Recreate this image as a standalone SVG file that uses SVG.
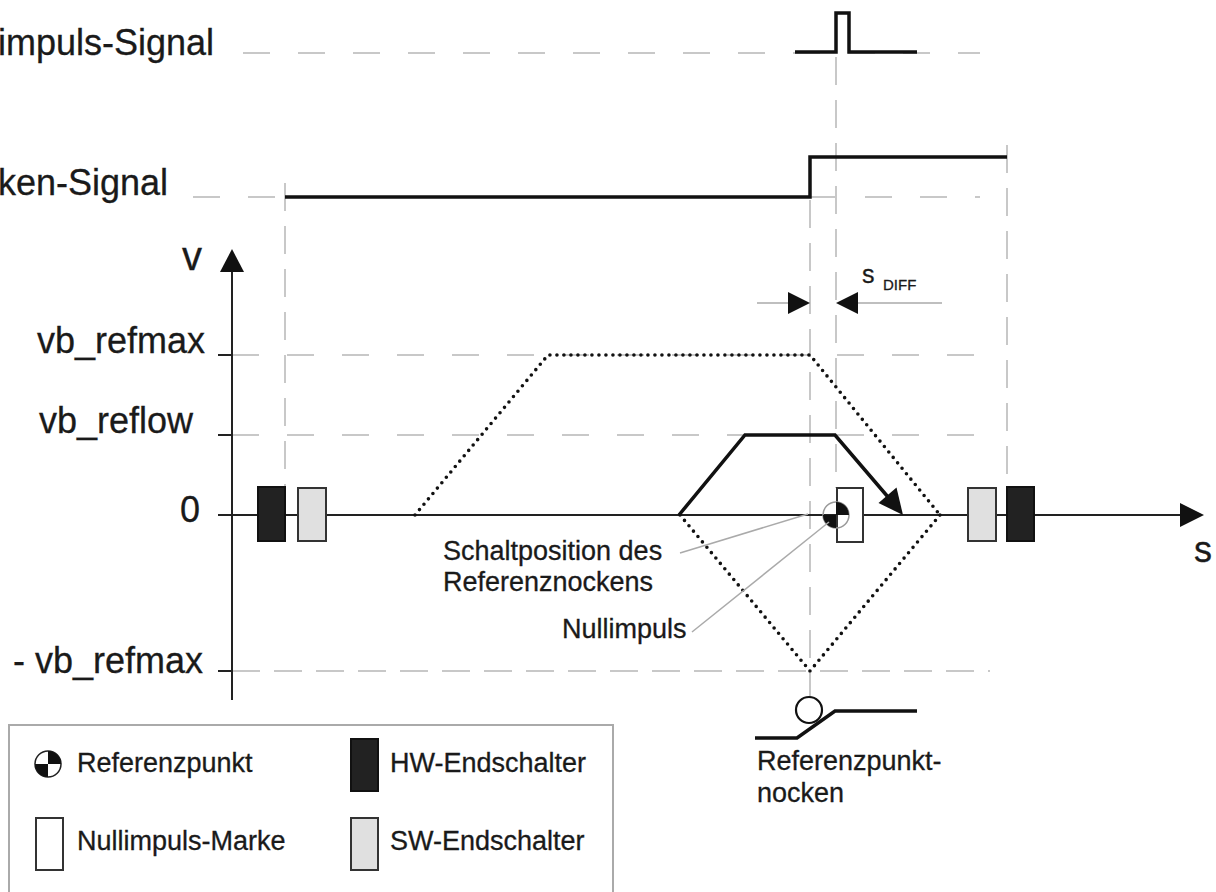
<svg xmlns="http://www.w3.org/2000/svg" width="1216" height="892" viewBox="0 0 1216 892">
<style>
  text { font-family: "Liberation Sans", Arial, Helvetica, sans-serif; fill: #1a1a1a; stroke: #1a1a1a; stroke-width: 0.3; }
  .big { font-size: 36px; }
  .mid { font-size: 27px; }
  .dh { fill: none; stroke: #c8c8c8; stroke-width: 2; stroke-dasharray: 27 28; }
  .dh2 { fill: none; stroke: #c8c8c8; stroke-width: 2; stroke-dasharray: 28 14; }
  .dv { fill: none; stroke: #c8c8c8; stroke-width: 2; stroke-dasharray: 28 15; }
  .bold { fill: none; stroke: #111; stroke-width: 3.5; stroke-linejoin: miter; }
  .dot { fill: none; stroke: #111; stroke-width: 3.6; stroke-dasharray: 0 7; stroke-linecap: round; }
  .axis { fill: none; stroke: #222; stroke-width: 2; }
  .thin { fill: none; stroke: #aaa; stroke-width: 1.5; }
  .hw { fill: #222; stroke: #111; stroke-width: 2; }
  .sw { fill: #e0e0e0; stroke: #333; stroke-width: 2; }
  .nm { fill: #fff; stroke: #333; stroke-width: 2; }
</style>
<rect width="1216" height="892" fill="#fff"/>

<g id="guides">
  <line class="dh" x1="243" y1="53" x2="980" y2="53"/>
  <line class="dh" x1="193" y1="197" x2="285" y2="197"/>
  <line class="dh" x1="810" y1="197" x2="980" y2="197"/>
  <line class="dh" x1="232" y1="355" x2="980" y2="355"/>
  <line class="dh" x1="232" y1="435" x2="980" y2="435"/>
  <line class="dh2" x1="232" y1="671" x2="990" y2="671"/>
  <line class="dv" x1="285" y1="183" x2="285" y2="487"/>
  <line class="dv" x1="1007" y1="145" x2="1007" y2="487"/>
  <line class="dv" x1="810" y1="200" x2="810" y2="712"/>
  <line class="dv" x1="836" y1="57" x2="836" y2="488"/>
</g>

<g id="axes">
  <line class="axis" x1="232" y1="700" x2="232" y2="268"/>
  <polygon points="232,249 220,272 244,272" fill="#111"/>
  <line class="axis" x1="218" y1="515" x2="1182" y2="515"/>
  <polygon points="1204,515 1180,503 1180,527" fill="#111"/>
  <line class="axis" x1="218" y1="355" x2="232" y2="355"/>
  <line class="axis" x1="218" y1="435" x2="232" y2="435"/>
  <line class="axis" x1="218" y1="671" x2="232" y2="671"/>
  <text class="big" x="202" y="270" text-anchor="end" style="font-size:40px">v</text>
  <text class="big" x="1212" y="562" text-anchor="end">s</text>
  <text class="big" x="205" y="353" text-anchor="end">vb_refmax</text>
  <text class="big" x="193" y="433" text-anchor="end">vb_reflow</text>
  <text class="big" x="200" y="522" text-anchor="end">0</text>
  <text class="big" x="203" y="673" text-anchor="end">- vb_refmax</text>
</g>

<g id="signal-nullimpuls">
  <text class="big" x="-2" y="55">impuls-Signal</text>
  <path class="bold" d="M795,52 L836,52 L836,13 L849,13 L849,52 L917,52"/>
</g>

<g id="signal-nocken">
  <text class="big" x="-2" y="195">ken-Signal</text>
  <path class="bold" d="M285,197 L810,197 L810,157 L1007,157"/>
</g>

<g id="s-diff">
  <line class="thin" x1="757" y1="303" x2="790" y2="303"/>
  <polygon points="810,303 788,292 788,314" fill="#111"/>
  <line class="thin" x1="856" y1="303" x2="942" y2="303"/>
  <polygon points="836,303 858,292 858,314" fill="#111"/>
  <text x="862" y="283" style="font-size:25px">s</text>
  <text x="883" y="290" style="font-size:15px">DIFF</text>
</g>

<g id="profile-refmax">
  <path class="dot" d="M415,515 L548,355 L810,355 L940,515"/>
  <path class="dot" d="M680,515 L810,671 L940,515"/>
</g>

<g id="profile-reflow">
  <path class="bold" d="M679,515 L745,435 L835,435 L888,497"/>
  <polygon points="903,515 878.5,503 896.5,487.5" fill="#111"/>
</g>

<g id="hw-left"><rect class="hw" x="258" y="487" width="27" height="54"/></g>
<g id="sw-left"><rect class="sw" x="298" y="488" width="28" height="53"/></g>
<g id="sw-right"><rect class="sw" x="968" y="488" width="28" height="53"/></g>
<g id="hw-right"><rect class="hw" x="1007" y="487" width="27" height="54"/></g>

<g id="nullimpuls-marke">
  <rect class="nm" x="837" y="488" width="26" height="54"/>
</g>

<g id="referenzpunkt">
  <circle cx="836" cy="515" r="13" fill="none" stroke="#999" stroke-width="1.5"/>
  <path d="M836,515 L836,502 A13,13 0 0 1 849,515 Z" fill="#111"/>
  <path d="M836,515 L836,528 A13,13 0 0 1 823,515 Z" fill="#111"/>
</g>

<g id="leaders">
  <line class="thin" x1="680" y1="553" x2="808" y2="514"/>
  <line class="thin" x1="692" y1="632" x2="829" y2="522"/>
  <text class="mid" x="443" y="560">Schaltposition des</text>
  <text class="mid" x="443" y="591">Referenznockens</text>
  <text class="mid" x="562" y="638">Nullimpuls</text>
</g>

<g id="referenzpunktnocken">
  <circle cx="809" cy="710" r="13" fill="#fff" stroke="#111" stroke-width="2.2"/>
  <path class="bold" d="M755,738 L797,738 L835,711 L917,711"/>
  <text class="mid" x="757" y="770">Referenzpunkt-</text>
  <text class="mid" x="757" y="802">nocken</text>
</g>

<g id="legend">
  <rect x="9" y="725" width="604" height="190" fill="none" stroke="#aaa" stroke-width="2"/>
  <g id="legend-referenzpunkt">
    <circle cx="48" cy="764" r="13" fill="#fff" stroke="#222" stroke-width="1.5"/>
    <path d="M48,764 L48,751 A13,13 0 0 1 61,764 Z" fill="#111"/>
    <path d="M48,764 L48,777 A13,13 0 0 1 35,764 Z" fill="#111"/>
    <text class="mid" x="77" y="772">Referenzpunkt</text>
  </g>
  <g id="legend-hw">
    <rect class="hw" x="351" y="739" width="27" height="52"/>
    <text class="mid" x="390" y="772">HW-Endschalter</text>
  </g>
  <g id="legend-nm">
    <rect class="nm" x="36" y="818" width="27" height="52"/>
    <text class="mid" x="77" y="850">Nullimpuls-Marke</text>
  </g>
  <g id="legend-sw">
    <rect class="sw" x="351" y="818" width="27" height="52"/>
    <text class="mid" x="390" y="850">SW-Endschalter</text>
  </g>
</g>
</svg>
